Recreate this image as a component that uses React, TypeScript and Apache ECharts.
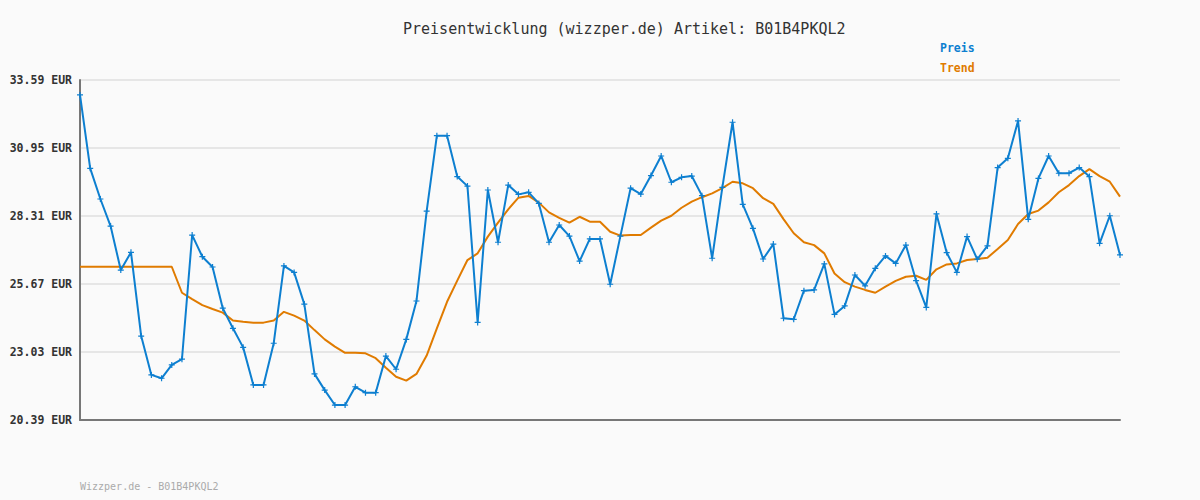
import React, { useEffect, useRef } from "react";
import * as echarts from "echarts";

const titleText = "Preisentwicklung (wizzper.de) Artikel: B01B4PKQL2";
const footerText = "Wizzper.de - B01B4PKQL2";
const yTicks = [20.39, 23.03, 25.67, 28.31, 30.95, 33.59];

const preis = [
  33.01, 30.16, 28.97, 27.92, 26.21, 26.9, 23.65, 22.14, 22.01, 22.53,
  22.75, 27.57, 26.73, 26.33, 24.73, 23.95, 23.21, 21.75, 21.75, 23.37,
  26.37, 26.12, 24.89, 22.18, 21.55, 20.97, 20.97, 21.68, 21.45, 21.45,
  22.87, 22.36, 23.52, 25.01, 28.5, 31.43, 31.43, 29.84, 29.47, 24.18,
  29.32, 27.29, 29.51, 29.15, 29.23, 28.8, 27.29, 27.96, 27.53, 26.56,
  27.42, 27.42, 25.66, 27.53, 29.39, 29.16, 29.88, 30.64, 29.62, 29.81,
  29.86, 29.1, 26.67, 29.42, 31.95, 28.76, 27.83, 26.64, 27.22, 24.34,
  24.3, 25.41, 25.44, 26.45, 24.49, 24.82, 26.02, 25.6, 26.28, 26.76,
  26.47, 27.18, 25.8, 24.76, 28.39, 26.89, 26.12, 27.51, 26.63, 27.15,
  30.19, 30.55, 32.0, 28.18, 29.77, 30.64, 29.97, 29.97, 30.19, 29.84,
  27.25, 28.32, 26.8,
];

const trend = [
  26.34, 26.34, 26.34, 26.34, 26.34, 26.34, 26.34, 26.34, 26.34, 26.34,
  25.33, 25.08, 24.85, 24.7, 24.56, 24.25, 24.2, 24.17, 24.17, 24.25,
  24.59, 24.44, 24.25, 23.88, 23.52, 23.24, 23.0, 23.0, 22.98, 22.79,
  22.42, 22.07, 21.92, 22.18, 22.89, 23.95, 24.98, 25.8, 26.6, 26.86,
  27.51, 28.05, 28.57, 29.02, 29.09, 28.83, 28.45, 28.24, 28.05, 28.28,
  28.09, 28.09, 27.7, 27.55, 27.57, 27.57, 27.86, 28.13, 28.32, 28.63,
  28.87, 29.04, 29.19, 29.39, 29.64, 29.58, 29.39, 29.0, 28.78, 28.19,
  27.64, 27.29, 27.18, 26.86, 26.08, 25.74, 25.57, 25.44, 25.33, 25.57,
  25.79, 25.95, 25.99, 25.83, 26.24, 26.43, 26.47, 26.6, 26.64, 26.69,
  27.03, 27.38, 28.0, 28.39, 28.52, 28.84, 29.23, 29.51, 29.86, 30.13,
  29.86, 29.64, 29.06,
];

const categories = preis.map((_, i) => String(i + 1));

const MONO = "'DejaVu Sans Mono', 'Liberation Mono', monospace";
const BLUE = "#0d7fd0";
const ORANGE = "#e07b00";

export default function App() {
  const ref = useRef<HTMLDivElement>(null);
  useEffect(() => {
    document.body.style.margin = "0";
    const chart = echarts.init(ref.current!, null, { renderer: "svg" });
    const yMin = yTicks[0];
    const yMax = yTicks[yTicks.length - 1];
    const interval = +(yTicks[1] - yTicks[0]).toFixed(2);
    chart.setOption({
      animation: false,
      backgroundColor: "#fafafa",
      title: [
        {
          text: titleText,
          left: 398,
          top: 16,
          textStyle: { fontFamily: MONO, fontSize: 15, fontWeight: "normal", color: "#333" },
        },
        {
          text: footerText,
          left: 75,
          top: 476,
          textStyle: { fontFamily: MONO, fontSize: 10, fontWeight: "normal", color: "#aaa" },
        },
      ],
      legend: {
        orient: "vertical",
        left: 930,
        top: 36,
        itemGap: 6,
        itemWidth: 0,
        itemHeight: 0,
        icon: "rect",
        selectedMode: false,
        data: [
          { name: "Preis", textStyle: { color: BLUE } },
          { name: "Trend", textStyle: { color: ORANGE } },
        ],
        textStyle: { fontFamily: MONO, fontSize: 11.5, fontWeight: "bold", lineHeight: 14 },
      },
      grid: { left: 80, right: 80, top: 80, bottom: 80, containLabel: false },
      xAxis: {
        type: "category",
        data: categories,
        boundaryGap: false,
        axisLine: { show: true, lineStyle: { color: "#777", width: 2 } },
        axisTick: { show: false },
        axisLabel: { show: false },
        splitLine: { show: false },
      },
      yAxis: {
        type: "value",
        min: yMin,
        max: yMax,
        interval: interval,
        axisLine: { show: true, lineStyle: { color: "#777", width: 2 } },
        axisTick: { show: false },
        axisLabel: {
          margin: 8,
          fontFamily: MONO,
          fontSize: 11.5,
          fontWeight: "bold",
          color: "#333",
          formatter: (v: number) => v.toFixed(2) + " EUR",
        },
        splitLine: { show: true, lineStyle: { color: "#e6e6e6", width: 2 } },
      },
      series: [
        {
          name: "Preis",
          type: "line",
          data: preis,
          color: BLUE,
          lineStyle: { color: BLUE, width: 2 },
          symbol: "path://M2,0H3V2H5V3H3V5H2V3H0V2H2Z",
          symbolSize: 6,
          itemStyle: { color: BLUE, borderWidth: 0 },
          z: 3,
        },
        {
          name: "Trend",
          type: "line",
          data: trend,
          color: ORANGE,
          lineStyle: { color: ORANGE, width: 2 },
          symbol: "none",
          showSymbol: false,
          z: 2,
        },
      ],
    });
    return () => chart.dispose();
  }, []);
  return <div ref={ref} style={{ width: 1200, height: 500 }} />;
}
